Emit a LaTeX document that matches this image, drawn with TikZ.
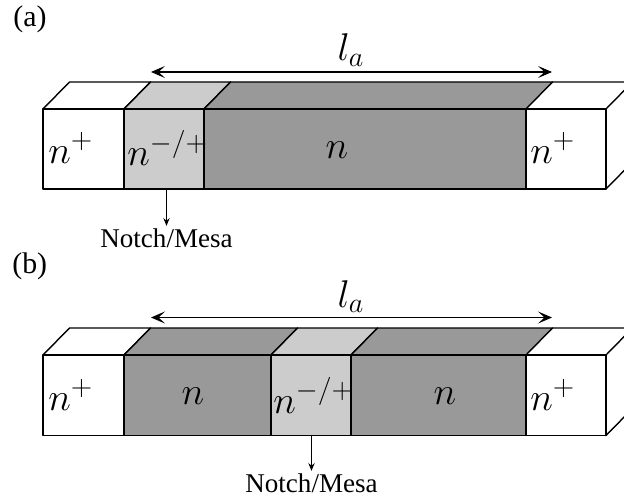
\documentclass[tikz,border=0pt]{standalone}
\usepackage{fix-cm}
\usepackage{fontspec}
\setmainfont{Liberation Serif}
\usetikzlibrary{arrows.meta,calc}
\DeclareMathSizes{22}{22}{16}{12}
\definecolor{layerdark}{gray}{.6}
\definecolor{layerlight}{gray}{.8}
\tikzset{
 layeredge/.style={draw=black,line width=.8pt},
 layertext/.style={inner sep=0pt,font=\fontsize{22}{24}\selectfont},
 paneltext/.style={inner sep=0pt,anchor=base west,font=\fontsize{17}{19}\selectfont},
 notetext/.style={inner sep=0pt,anchor=base,font=\fontsize{15.4}{17}\selectfont},
 lengtharrow/.style={{Stealth[length=.28cm,width=.24cm,inset=.13cm]}-{Stealth[length=.28cm,width=.24cm,inset=.13cm]},line width=.65pt},
 notearrow/.style={-{Stealth[length=.16cm,width=.13cm,inset=.06cm]},line width=.6pt,shorten >=.04cm}
}

\begin{document}
\begin{tikzpicture}[line cap=round,line join=round]
 \clip (0,0) rectangle (12.48,10.04);
 \fill[white] (0,0) rectangle (12.48,10.04);
 % panel (a)
 \node[paneltext] (panela) at (.26,9.5) {(a)};
 \filldraw[layeredge,fill=white] (.86,7.86) -- (1.39,8.4) -- (3.01,8.4) -- (2.48,7.86) -- cycle;
 \filldraw[layeredge,fill=layerlight] (2.48,7.86) -- (3.01,8.4) -- (4.61,8.4) -- (4.08,7.86) -- cycle;
 \filldraw[layeredge,fill=layerdark] (4.08,7.86) -- (4.61,8.4) -- (11.05,8.4) -- (10.52,7.86) -- cycle;
 \draw[layeredge] (11.05,8.4) -- (12.65,8.4) -- (12.12,7.86) -- (10.52,7.86);
 \draw[layeredge] (12.12,6.26) -- (12.65,6.8);
 \filldraw[layeredge,fill=white] (.86,6.26) rectangle (2.48,7.86);
 \filldraw[layeredge,fill=layerlight] (2.48,6.26) rectangle (4.08,7.86);
 \filldraw[layeredge,fill=layerdark] (4.08,6.26) rectangle (10.52,7.86);
 \filldraw[layeredge,fill=white] (10.52,6.26) rectangle (12.12,7.86);
 \node[layertext,anchor=base west] (nplusal) at (.96,6.78) {$n^{+}$};
 \node[layertext,anchor=base west] (nnotcha) at (2.54,6.72) {$n^{-/+}$};
 \node[layertext,anchor=base] (na) at (6.74,6.88) {$n$};
 \node[layertext,anchor=base west] (nplusar) at (10.6,6.78) {$n^{+}$};
 \coordinate (lal) at (3.02,8.6); \coordinate (lar) at (11.04,8.6);
 \draw[lengtharrow] (lal) -- (lar);
 \node[layertext,anchor=base] (laa) at (7.02,8.82) {$l_a$};
 \coordinate (notchtopa) at (3.33,6.26);
 \node[notetext] (notcha) at (3.33,5.1) {Notch/Mesa};
 \draw[notearrow] (notchtopa) -- (notcha.north);
 % panel (b)
 \node[paneltext] (panelb) at (.24,4.58) {(b)};
 \filldraw[layeredge,fill=white] (.86,2.94) -- (1.39,3.48) -- (3.01,3.48) -- (2.48,2.94) -- cycle;
 \filldraw[layeredge,fill=layerdark] (2.48,2.94) -- (3.01,3.48) -- (5.95,3.48) -- (5.42,2.94) -- cycle;
 \filldraw[layeredge,fill=layerlight] (5.42,2.94) -- (5.95,3.48) -- (7.55,3.48) -- (7.02,2.94) -- cycle;
 \filldraw[layeredge,fill=layerdark] (7.02,2.94) -- (7.55,3.48) -- (11.05,3.48) -- (10.52,2.94) -- cycle;
 \draw[layeredge] (11.05,3.48) -- (12.65,3.48) -- (12.12,2.94) -- (10.52,2.94);
 \draw[layeredge] (12.12,1.33) -- (12.65,1.87);
 \filldraw[layeredge,fill=white] (.86,1.33) rectangle (2.48,2.94);
 \filldraw[layeredge,fill=layerdark] (2.48,1.33) rectangle (5.42,2.94);
 \filldraw[layeredge,fill=layerlight] (5.42,1.33) rectangle (7.02,2.94);
 \filldraw[layeredge,fill=layerdark] (7.02,1.33) rectangle (10.52,2.94);
 \filldraw[layeredge,fill=white] (10.52,1.33) rectangle (12.12,2.94);
 \node[layertext,anchor=base west] (nplusbl) at (.96,1.84) {$n^{+}$};
 \node[layertext,anchor=base] (nbl) at (3.86,1.96) {$n$};
 \node[layertext,anchor=base west] (nnotchb) at (5.46,1.78) {$n^{-/+}$};
 \node[layertext,anchor=base] (nbr) at (8.9,1.96) {$n$};
 \node[layertext,anchor=base west] (nplusbr) at (10.6,1.84) {$n^{+}$};
 \coordinate (lbl) at (3.02,3.69); \coordinate (lbr) at (11.04,3.69);
 \draw[lengtharrow] (lbl) -- (lbr);
 \node[layertext,anchor=base] (lab) at (7.02,3.9) {$l_a$};
 \coordinate (notchtopb) at (6.23,1.33);
 \node[notetext] (notchb) at (6.23,.2) {Notch/Mesa};
 \draw[notearrow] (notchtopb) -- (notchb.north);
\end{tikzpicture}
\end{document}
